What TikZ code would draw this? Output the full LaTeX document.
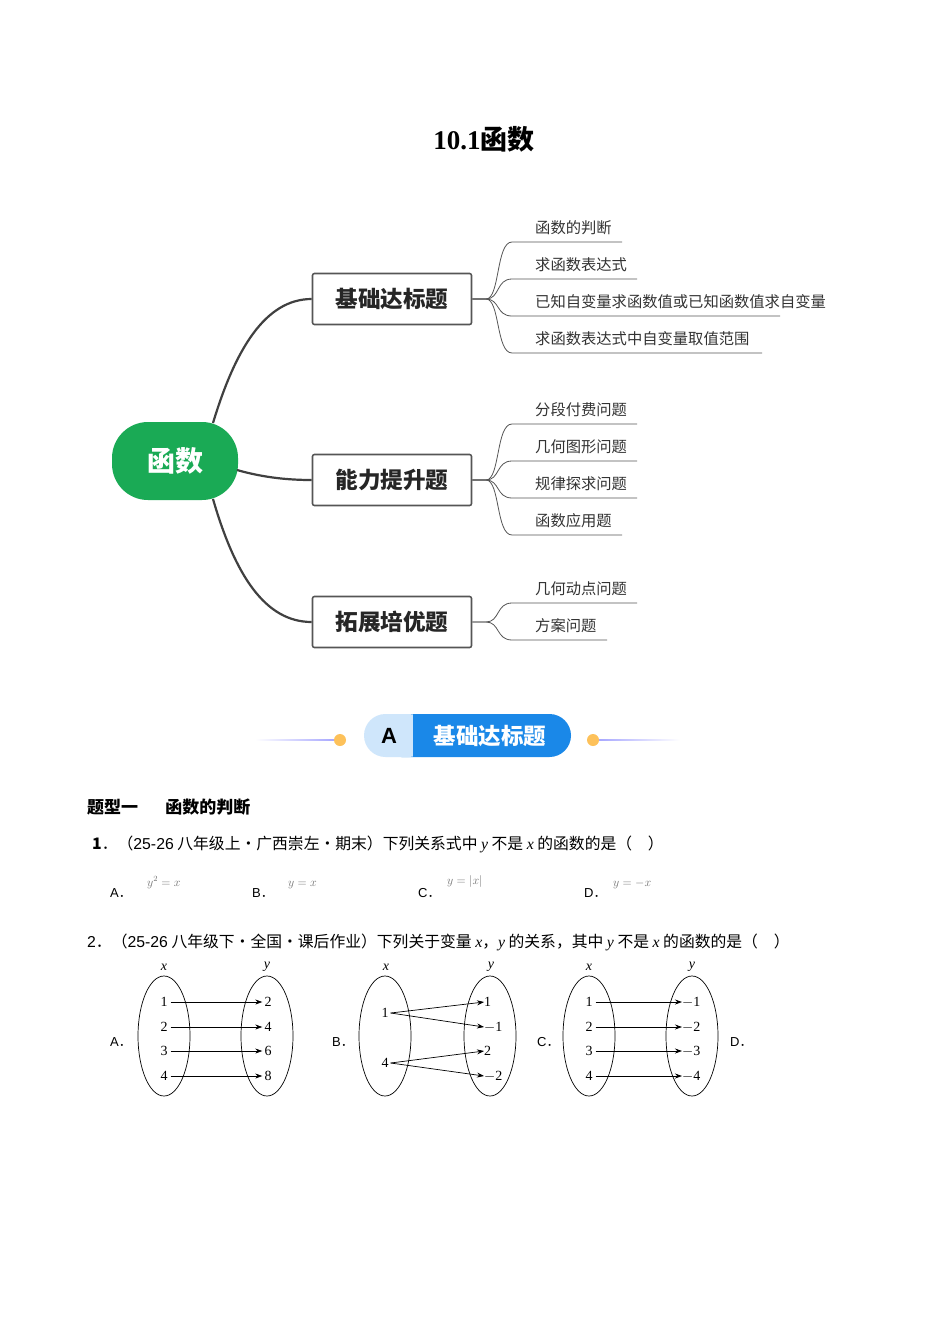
\documentclass[tikz,border=0pt]{standalone}
\usepackage{fontspec}
\setmainfont{Liberation Serif}
\newfontfamily\cjk{Noto Sans CJK SC}
\newfontfamily\sans{Liberation Sans}
\usetikzlibrary{arrows.meta}
\definecolor{rootg}{HTML}{1AAA55}
\definecolor{lineg}{HTML}{555555}
\definecolor{bluel}{HTML}{CFE6FB}
\definecolor{blued}{HTML}{1A88E8}
\definecolor{dotc}{HTML}{FDC15A}
\tikzset{
  x=1pt,y=-1pt,
  mainbox/.style={draw=lineg,line width=1.6pt,rounded corners=2pt,minimum width=159pt,minimum height=51pt,font=\cjk\bfseries\fontsize{22.6}{22}\selectfont,text=black!85},
  trunk/.style={draw=black!75,line width=2.2pt},
  twig/.style={draw=lineg,line width=0.8pt},
  leaf/.style={anchor=base west,font=\cjk\fontsize{15.3}{15}\selectfont,text=black!80,inner sep=0pt},
  body/.style={anchor=base west,inner sep=0pt,font=\cjk\fontsize{15.8}{16}\selectfont},
  opt/.style={anchor=base west,inner sep=0pt,font=\sans\fontsize{13}{13}\selectfont},
  fml/.style={anchor=base west,inner sep=0pt,font=\fontsize{12}{12}\selectfont,text=black!55},
  num/.style={inner sep=0pt,font=\fontsize{14}{14}\selectfont},
  ell/.style={draw,line width=0.7pt},
  arr/.style={-{Stealth[length=7pt,width=5pt]},line width=0.7pt}
}
\begin{document}
\begin{tikzpicture}
\useasboundingbox[fill=white] (0,0) rectangle (950,1344);
\node[font=\bfseries\fontsize{27}{27}\selectfont] (title) at (484,139) {10.1{\cjk\bfseries 函数}};
% mind map
\node[fill=rootg,rounded corners=36pt,minimum width=126pt,minimum height=78pt,text=white,font=\cjk\bfseries\fontsize{28}{28}\selectfont] (root) at (175,461) {函数};
\node[mainbox] (b1) at (392,299) {基础达标题};
\node[mainbox] (b2) at (392,480) {能力提升题};
\node[mainbox] (b3) at (392,622) {拓展培优题};
\coordinate (r1) at (213,423);
\coordinate (r2) at (237,470);
\coordinate (r3) at (213,499);
\draw[trunk] (r1) .. controls (235,350) and (265,299) .. (b1.west);
\draw[trunk] (r2) .. controls (265,478) and (290,480) .. (b2.west);
\draw[trunk] (r3) .. controls (235,575) and (265,622) .. (b3.west);
% leaves
\foreach \bx/\by/\ty/\tx/\te in {b1/299/242/函数的判断/622, b1/299/279/求函数表达式/637, b1/299/316/已知自变量求函数值或已知函数值求自变量/780, b1/299/353/求函数表达式中自变量取值范围/762,
 b2/480/424/分段付费问题/637, b2/480/461/几何图形问题/637, b2/480/498/规律探求问题/637, b2/480/535/函数应用题/622,
 b3/622/603/几何动点问题/637, b3/622/640/方案问题/607}{
  \draw[twig] (\bx.east) -- (486,\by) .. controls (500,\by) and (496,\ty) .. (512,\ty) -- (\te,\ty);
  \node[leaf] at (535,\ty-9) {\tx};
}
% banner
\shade[left color=white,right color=blue!35] (255,739.3) rectangle (336,740.7);
\shade[left color=blue!35,right color=white] (597,739.3) rectangle (680,740.7);
\fill[dotc] (340,740) circle (6);
\fill[dotc] (593,740) circle (6);
\fill[blued,rounded corners=21.5pt] (380,714) rectangle (571,757);
\fill[bluel,rounded corners=21.5pt] (364,714) rectangle (430,757);
\fill[blued] (413,714) rectangle (450,757);
\node[font=\sans\bfseries\fontsize{22}{22}\selectfont] (ba) at (389,736) {A};
\node[text=white,font=\cjk\bfseries\fontsize{22.5}{22}\selectfont] (bt) at (490,736) {基础达标题};
% questions
\node[body,font=\cjk\bfseries\fontsize{17}{17}\selectfont] (h1) at (87,813) {题型一\hspace{1.6em}函数的判断};
\node[body] (q1) at (92,849) {{\bfseries 1}．（{\sans 25-26} 八年级上·广西崇左·期末）下列关系式中 {\rmfamily\itshape y} 不是 {\rmfamily\itshape x} 的函数的是（\quad ）};
\node[opt] (oa) at (110,897) {A{\cjk ．}};
\node[fml] at (147,886) {$y^2=x$};
\node[opt] (ob) at (252,897) {B{\cjk ．}};
\node[fml] at (288,886) {$y=x$};
\node[opt] (oc) at (418,897) {C{\cjk ．}};
\node[fml] at (447,884) {$y=|x|$};
\node[opt] (od) at (584,897) {D{\cjk ．}};
\node[fml] at (613,886) {$y=-x$};
\node[body] (q2) at (87,947) {{\sans 2}．（{\sans 25-26} 八年级下·全国·课后作业）下列关于变量 {\rmfamily\itshape x}，{\rmfamily\itshape y} 的关系，其中 {\rmfamily\itshape y} 不是 {\rmfamily\itshape x} 的函数的是（\quad ）};
% diagrams
\foreach \lx/\rx/\lab/\labx in {164/267/A/110, 589/692/C/537}{
  \draw[ell] (\lx,1036) ellipse (26 and 60);
  \draw[ell] (\rx,1036) ellipse (26 and 60);
  \node[num,font=\itshape\fontsize{14}{14}\selectfont] at (\lx,967) {x};
  \node[num,font=\itshape\fontsize{14}{14}\selectfont] at (\rx,967) {y};
  \node[opt] at (\labx,1046) {\lab{\cjk ．}};
}
\node[opt] at (730,1046) {D{\cjk ．}};
\foreach \i/\v/\yy in {1/2/1002,2/4/1027,3/6/1051,4/8/1076}{
  \node[num] (al\i) at (164,\yy) {\i};
  \node[num] (ar\i) at (268,\yy) {\v};
  \draw[arr] (al\i.east) ++(3,0) -- ([xshift=-2pt]ar\i.west);
}
\foreach \i/\v/\yy in {1/$-$1/1002,2/$-$2/1027,3/$-$3/1051,4/$-$4/1076}{
  \node[num] (cl\i) at (589,\yy) {\i};
  \node[num,anchor=west] (cr\i) at (682,\yy) {\v};
  \draw[arr] (cl\i.east) ++(3,0) -- ([xshift=0pt]cr\i.west);
}
\draw[ell] (385,1036) ellipse (26 and 60);
\draw[ell] (490,1036) ellipse (26 and 60);
\node[num,font=\itshape\fontsize{14}{14}\selectfont] at (386,967) {x};
\node[num,font=\itshape\fontsize{14}{14}\selectfont] at (491,967) {y};
\node[opt] at (332,1046) {B{\cjk ．}};
\node[num] (bl1) at (385,1013) {1};
\node[num] (bl4) at (385,1063) {4};
\node[num,anchor=west] (br1) at (484,1002) {1};
\node[num,anchor=west] (br2) at (484,1027) {$-$1};
\node[num,anchor=west] (br3) at (484,1051) {2};
\node[num,anchor=west] (br4) at (484,1076) {$-$2};
\draw[arr] (bl1.east) ++(2,0) -- (br1.west);
\draw[arr] (bl1.east) ++(2,0) -- (br2.west);
\draw[arr] (bl4.east) ++(2,0) -- (br3.west);
\draw[arr] (bl4.east) ++(2,0) -- (br4.west);
\end{tikzpicture}
\end{document}
